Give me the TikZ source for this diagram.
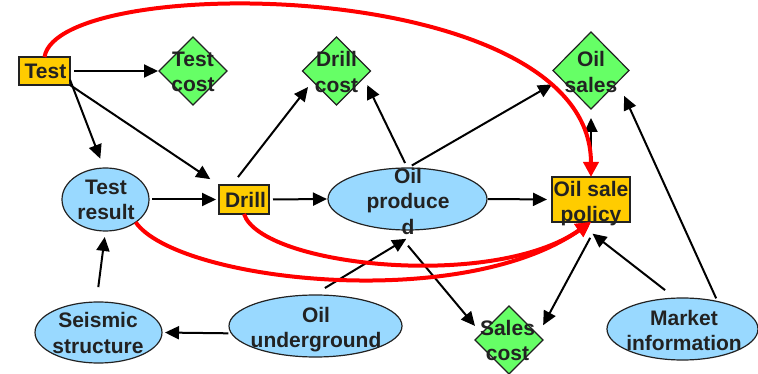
\documentclass[tikz,border=0pt]{standalone}
\usepackage{fontspec}
\setmainfont{Liberation Sans}
\usetikzlibrary{arrows.meta,shapes.geometric}

\definecolor{boxfill}{HTML}{FFCC00}
\definecolor{costfill}{HTML}{66FF66}
\definecolor{chancefill}{HTML}{99D9FF}
\definecolor{inkgray}{HTML}{222222}
\definecolor{linkred}{HTML}{FF0000}

\tikzset{
  lbl/.style={font=\fontsize{21}{25.5}\selectfont\bfseries, text=inkgray,
    align=center, inner sep=0pt},
  shapeline/.style={draw=inkgray, line width=1.2pt, inner sep=0pt, outer sep=0pt},
  decision/.style={rectangle, shapeline, fill=boxfill},
  utility/.style={diamond, shapeline, fill=costfill,
    minimum width=68pt, minimum height=68pt},
  chance/.style={ellipse, shapeline, fill=chancefill},
  arr/.style={draw=black, line width=2pt,
    -{Triangle[length=14pt,width=13pt]}},
  infolink/.style={draw=linkred, line width=4pt,
    -{Triangle[length=15pt,width=15pt]}},
}

\begin{document}
\begin{tikzpicture}[x=1pt,y=-1pt]
\useasboundingbox (0,0) rectangle (758,374);

% decisions
\node[decision, minimum width=51pt, minimum height=28pt,
  label={[lbl,xshift=1pt]center:Test}] (test) at (44.5,71) {};
\node[decision, minimum width=50pt, minimum height=29pt,
  label={[lbl,xshift=1.5pt,yshift=-0.5pt]center:Drill}] (drill) at (244,199.5) {};
\node[decision, minimum width=78pt, minimum height=45pt,
  label={[lbl,yshift=-4pt]center:{Oil sale\\policy}}] (osp) at (591,199.5) {};

% utilities
\node[utility, label={[lbl,yshift=-1pt]center:{Test\\cost}}] (testcost) at (193,71) {};
\node[utility, label={[lbl,yshift=-1pt]center:{Drill\\cost}}] (drillcost) at (336.5,71) {};
\node[utility, minimum width=76pt, minimum height=77pt,
  label={[lbl,yshift=-1.5pt]center:{Oil\\sales}}] (oilsales) at (591,70.5) {};
\node[utility, label={[lbl,xshift=-1.5pt,yshift=-0.5pt]center:{Sales\\cost}}] (salescost) at (509,340) {};

% chance nodes
\node[chance, minimum width=87pt, minimum height=63pt,
  label={[lbl,xshift=0.5pt,yshift=-0.5pt]center:{Test\\result}}] (tr) at (105.5,199.5) {};
\node[chance, minimum width=159pt, minimum height=62pt,
  label={[lbl,xshift=0.5pt,yshift=-2pt]center:{Oil\\produce\\d}}] (oilp) at (407.5,199) {};
\node[chance, minimum width=127pt, minimum height=61pt,
  label={[lbl,xshift=-0.5pt,yshift=-0.5pt]center:{Seismic\\structure}}] (seis) at (98.5,332.5) {};
\node[chance, minimum width=173pt, minimum height=62pt,
  label={[lbl,xshift=0.5pt,yshift=-3.5pt]center:{Oil\\underground}}] (oilu) at (315.5,326) {};
\node[chance, minimum width=151pt, minimum height=62pt,
  label={[lbl,xshift=1.5pt,yshift=-1.5pt]center:{Market\\information}}] (market) at (682.5,329) {};

% dependencies
\draw[arr, shorten <=4pt, shorten >=1pt] (test.east) -- (testcost.west);
\draw[arr, shorten >=10pt] (test.-19) -- (tr.93);
\draw[arr, shorten >=10.5pt] (test.south east) -- (drill.north west);
\draw[arr, shorten <=10pt, shorten >=7.5pt] (drill.130) -- (drillcost.203);
\draw[arr, shorten <=5.5pt, shorten >=8pt] (oilp.north) -- (drillcost.-14);
\draw[arr, shorten <=5pt, shorten >=10.7pt] (oilp.north) -- (oilsales.196);
\draw[arr, shorten <=17pt, shorten >=9pt] (osp.north) -- (oilsales.south);
\draw[arr, shorten <=3.5pt, shorten >=15.4pt] (market.38) -- (oilsales.-23);
\draw[arr, shorten <=3pt, shorten >=3pt] (tr.east) -- (drill.west);
\draw[arr, shorten <=4pt, shorten >=1pt] (drill.east) -- (oilp.west);
\draw[arr, shorten <=1pt, shorten >=5pt] (oilp.east) -- (osp.west);
\draw[arr, shorten <=15pt, shorten >=6pt] (seis.94) -- (tr.south);
\draw[arr, shorten <=3pt, shorten >=3pt] (oilu.185) -- (seis.east);
\draw[arr, shorten <=13.5pt, shorten >=18pt] (oilu.94) -- (oilp.-65);
\draw[arr, shorten <=21pt, shorten >=10pt] (oilp.-113) -- (salescost.167);
\draw[arr, shorten <=18pt, shorten >=11pt] (osp.-71) -- (salescost.10);
\draw[arr, shorten <=13pt, shorten >=19pt] (market.103) -- (osp.-121);

% information links into the sale policy
\draw[infolink] (test.north) .. controls (58,-28) and (591,-25) .. (osp.north);
\draw[infolink] (tr.-37) .. controls (176.6,280.8) and (460,313.7) .. (osp.south);
\draw[infolink] (drill.south) .. controls (261.4,266.2) and (492.7,290.8) .. (osp.south);
\end{tikzpicture}
\end{document}
